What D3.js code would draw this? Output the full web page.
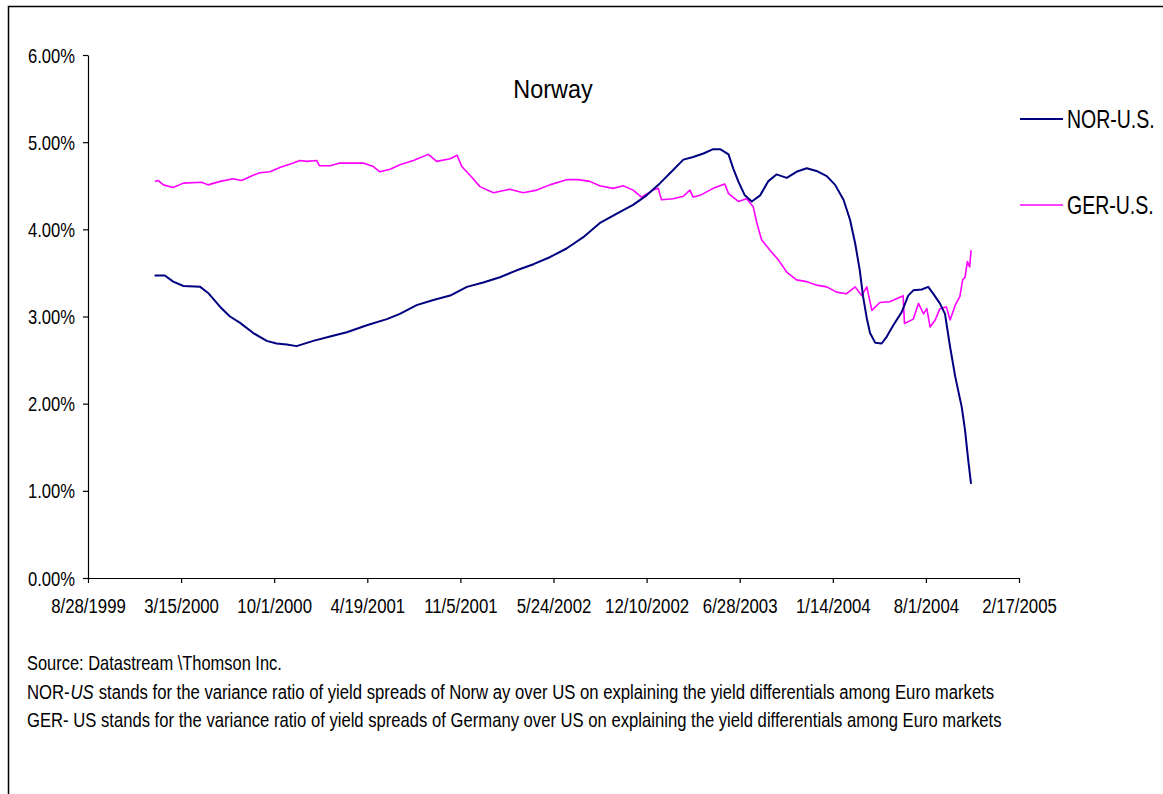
<!DOCTYPE html>
<html>
<head>
<meta charset="utf-8">
<script src="https://cdn.jsdelivr.net/npm/d3@7"></script>
<style>
  body { margin: 0; background: #fff; }
  text { font-family: "Liberation Sans", Arial, sans-serif; fill: #000; }
</style>
</head>
<body>
<svg id="chart" width="1163" height="794"></svg>
<script>
// ---- data ----
const seriesNames = ['NOR-U.S.', 'GER-U.S.'];
const seriesColors = ['#000080', '#ff00ff'];

const xTickLabels = ['8/28/1999', '3/15/2000', '10/1/2000', '4/19/2001', '11/5/2001',
  '5/24/2002', '12/10/2002', '6/28/2003', '1/14/2004', '8/1/2004', '2/17/2005'];
const yTickValues = [0, 0.01, 0.02, 0.03, 0.04, 0.05, 0.06];

const norDates = ['2000-01-18', '2000-02-09', '2000-02-27', '2000-03-20', '2000-04-25', '2000-05-12',
  '2000-06-07', '2000-06-28', '2000-07-19', '2000-08-17', '2000-09-15', '2000-10-06', '2000-10-28',
  '2000-11-18', '2000-12-24', '2001-01-29', '2001-03-06', '2001-04-18', '2001-05-31', '2001-06-28',
  '2001-08-03', '2001-09-08', '2001-10-14', '2001-11-19', '2001-12-24', '2002-01-29', '2002-03-06',
  '2002-04-11', '2002-05-16', '2002-06-21', '2002-07-27', '2002-08-31', '2002-10-07', '2002-11-11',
  '2002-12-10', '2003-01-08', '2003-02-05', '2003-02-27', '2003-03-20', '2003-04-11', '2003-05-02',
  '2003-05-17', '2003-06-04', '2003-06-14', '2003-06-25', '2003-07-09', '2003-07-24', '2003-08-11',
  '2003-08-28', '2003-09-15', '2003-10-07', '2003-10-28', '2003-11-19', '2003-12-10', '2004-01-01',
  '2004-01-19', '2004-02-06', '2004-02-20', '2004-03-02', '2004-03-12', '2004-03-19', '2004-03-27',
  '2004-04-03', '2004-04-14', '2004-04-28', '2004-05-09', '2004-05-23', '2004-06-10', '2004-06-24',
  '2004-07-05', '2004-07-23', '2004-08-06', '2004-08-17', '2004-08-31', '2004-09-11', '2004-09-22',
  '2004-10-03', '2004-10-17', '2004-10-24', '2004-10-31', '2004-11-06'];
const norValues = [3.47, 3.47, 3.40, 3.35, 3.34, 3.27,
  3.11, 3.00, 2.93, 2.81, 2.72, 2.69, 2.68,
  2.66, 2.72, 2.77, 2.82, 2.90, 2.97, 3.03,
  3.13, 3.19, 3.24, 3.34, 3.39, 3.45, 3.53,
  3.60, 3.68, 3.78, 3.91, 4.07, 4.18, 4.28,
  4.39, 4.53, 4.68, 4.80, 4.83, 4.87, 4.92,
  4.92, 4.86, 4.70, 4.55, 4.39, 4.32, 4.39,
  4.55, 4.63, 4.59, 4.66, 4.70, 4.67, 4.61,
  4.51, 4.34, 4.11, 3.84, 3.53, 3.23, 2.98,
  2.81, 2.70, 2.69, 2.77, 2.90, 3.05, 3.24,
  3.30, 3.31, 3.34, 3.26, 3.15, 3.03, 2.65,
  2.31, 1.96, 1.70, 1.35, 1.08];

const gerDates = ['2000-01-19', '2000-01-26', '2000-02-06', '2000-02-27', '2000-03-20', '2000-04-28',
  '2000-05-12', '2000-06-07', '2000-07-05', '2000-07-23', '2000-08-17', '2000-08-31', '2000-09-22',
  '2000-10-13', '2000-11-11', '2000-11-25', '2000-12-10', '2000-12-31', '2001-01-06', '2001-01-29',
  '2001-02-19', '2001-03-20', '2001-04-10', '2001-05-02', '2001-05-16', '2001-06-07', '2001-06-28',
  '2001-07-27', '2001-08-28', '2001-09-15', '2001-10-14', '2001-10-29', '2001-11-08', '2001-11-29',
  '2001-12-17', '2002-01-15', '2002-02-19', '2002-03-20', '2002-04-18', '2002-05-16', '2002-06-21',
  '2002-07-16', '2002-08-10', '2002-08-31', '2002-09-29', '2002-10-21', '2002-11-11', '2002-11-29',
  '2002-12-24', '2003-01-04', '2003-01-11', '2003-02-05', '2003-02-27', '2003-03-13', '2003-03-20',
  '2003-04-04', '2003-04-11', '2003-05-02', '2003-05-27', '2003-06-04', '2003-06-25', '2003-07-13',
  '2003-07-27', '2003-08-04', '2003-08-14', '2003-09-01', '2003-09-19', '2003-10-07', '2003-10-28',
  '2003-11-19', '2003-12-10', '2004-01-01', '2004-01-22', '2004-02-12', '2004-03-02', '2004-03-16',
  '2004-03-27', '2004-04-07', '2004-04-24', '2004-05-15', '2004-06-10', '2004-06-13', '2004-06-16',
  '2004-07-05', '2004-07-16', '2004-07-27', '2004-08-03', '2004-08-10', '2004-08-21', '2004-08-31',
  '2004-09-14', '2004-09-22', '2004-10-03', '2004-10-13', '2004-10-19', '2004-10-24', '2004-10-29',
  '2004-11-03', '2004-11-06'];
const gerValues = [4.55, 4.56, 4.51, 4.48, 4.53, 4.54,
  4.51, 4.55, 4.58, 4.56, 4.62, 4.65, 4.66,
  4.71, 4.76, 4.79, 4.78, 4.79, 4.73, 4.73,
  4.76, 4.76, 4.76, 4.72, 4.66, 4.69, 4.74,
  4.79, 4.86, 4.78, 4.81, 4.85, 4.72, 4.60,
  4.49, 4.42, 4.46, 4.42, 4.45, 4.51, 4.57,
  4.57, 4.55, 4.50, 4.47, 4.50, 4.45, 4.37,
  4.45, 4.47, 4.34, 4.35, 4.38, 4.45, 4.37,
  4.39, 4.41, 4.47, 4.52, 4.41, 4.32, 4.35,
  4.26, 4.07, 3.88, 3.76, 3.65, 3.51, 3.42,
  3.40, 3.36, 3.34, 3.28, 3.26, 3.34, 3.24,
  3.34, 3.07, 3.16, 3.17, 3.23, 3.24, 2.92,
  2.97, 3.15, 3.03, 3.09, 2.88, 2.96, 3.09,
  3.11, 2.96, 3.13, 3.23, 3.42, 3.45, 3.63,
  3.57, 3.76];

const titleText = 'Norway';
const sourceText = 'Source: Datastream \\Thomson Inc.';
const norNote = ['NOR-', 'US', 'stands for the variance ratio of yield spreads of Norw ay over US on explaining the yield differentials among Euro markets'];
const gerNote = 'GER- US stands for the variance ratio of yield spreads of Germany over US on explaining the yield differentials among Euro markets';

// ---- layout ----
const svg = d3.select('#chart');
const plot = { left: 88, right: 1019, top: 55, bottom: 578 };

const parseDay = d3.timeParse('%Y-%m-%d');
const parseTick = d3.timeParse('%m/%d/%Y');
const tickDates = xTickLabels.map(parseTick);

const x = d3.scaleTime()
  .domain([tickDates[0], tickDates[tickDates.length - 1]])
  .range([plot.left, plot.right]);
const y = d3.scaleLinear()
  .domain([0, 0.06])
  .range([plot.bottom, plot.top]);

// frame
svg.append('path')
  .attr('d', 'M8.5,800 V6.5 H1170')
  .attr('fill', 'none')
  .attr('stroke', '#000')
  .attr('stroke-width', 1.5);

// axes
const xAxis = d3.axisBottom(x)
  .tickValues(tickDates)
  .tickFormat((d, i) => xTickLabels[i])
  .tickSizeInner(5)
  .tickSizeOuter(0);
const xAxisG = svg.append('g')
  .attr('transform', `translate(0,${plot.bottom})`)
  .call(xAxis);
xAxisG.selectAll('text')
  .attr('y', 0).attr('dy', 0)
  .attr('transform', 'translate(0,35) scale(0.8,1)')
  .style('font-size', '21px');

const yAxis = d3.axisLeft(y)
  .tickValues(yTickValues)
  .tickFormat(d3.format('.2%'))
  .tickSizeInner(5)
  .tickSizeOuter(0);
const yAxisG = svg.append('g')
  .attr('transform', `translate(${plot.left},0)`)
  .call(yAxis);
yAxisG.selectAll('text')
  .attr('x', 0).attr('dy', '0.35em')
  .attr('transform', 'translate(-13,0) scale(0.83,1)')
  .style('font-size', '20px');

svg.selectAll('.domain, .tick line').attr('stroke', '#000').attr('stroke-width', 1.2);

// lines
const series = [
  { name: seriesNames[0], color: seriesColors[0], width: 2,
    values: norDates.map((d, i) => ({ date: parseDay(d), v: norValues[i] / 100 })) },
  { name: seriesNames[1], color: seriesColors[1], width: 1.6,
    values: gerDates.map((d, i) => ({ date: parseDay(d), v: gerValues[i] / 100 })) }
];

const line = d3.line()
  .x(d => x(d.date))
  .y(d => y(d.v));

svg.append('g').selectAll('path')
  .data(series.slice().reverse())
  .join('path')
  .attr('fill', 'none')
  .attr('stroke', d => d.color)
  .attr('stroke-width', d => d.width)
  .attr('stroke-linejoin', 'round')
  .attr('d', d => line(d.values));

// title
svg.append('text')
  .attr('transform', 'translate(553,98) scale(0.9,1)')
  .attr('text-anchor', 'middle')
  .style('font-size', '26px')
  .text(titleText);

// legend
const legend = svg.append('g').selectAll('g')
  .data(series)
  .join('g')
  .attr('transform', (d, i) => `translate(1020,${119 + i * 86})`);
legend.append('line')
  .attr('x1', 0).attr('x2', 43)
  .attr('stroke', d => d.color)
  .attr('stroke-width', d => d.width);
legend.append('text')
  .attr('transform', 'translate(47,0) scale(0.78,1)')
  .attr('dy', '0.36em')
  .style('font-size', '25px')
  .text(d => d.name);

// footnotes: pieces laid side by side, then the whole line squeezed to its width
const foot = svg.append('g').style('font-size', '20px');
function noteLine(parts, y0, width) {
  const g = foot.append('g');
  let cx = 0;
  parts.forEach((p, i) => {
    const t = g.append('text')
      .attr('x', cx)
      .style('font-style', p.italic ? 'italic' : 'normal')
      .text(p.text);
    cx += t.node().getComputedTextLength() + (p.gap || 0);
  });
  const s = width / cx;
  g.attr('transform', `translate(27,${y0}) scale(${s},1)`);
}

noteLine([{ text: sourceText }], 670, 255);
noteLine([
  { text: norNote[0], gap: 1 },
  { text: norNote[1], italic: true, gap: 6 },
  { text: norNote[2] }
], 699, 968);
noteLine([{ text: gerNote }], 727, 975);
</script>
</body>
</html>
